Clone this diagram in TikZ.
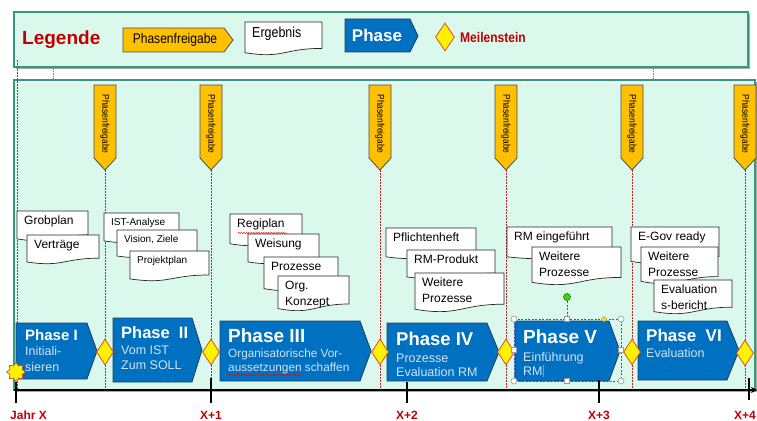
\documentclass[tikz,border=0pt]{standalone}
\usepackage{fontspec}
\setmainfont{Liberation Sans}
\newfontfamily\narrowf[FakeStretch=0.86]{Liberation Sans}
\usetikzlibrary{shapes.geometric,arrows.meta,decorations.pathmorphing}
\definecolor{mint}{HTML}{DAF9EC}
\definecolor{tealb}{HTML}{2E9E7E}
\definecolor{phblue}{HTML}{0070C0}
\definecolor{phborder}{HTML}{1F3F66}
\definecolor{phsubc}{HTML}{D2E3F4}
\definecolor{tagorange}{HTML}{FFC000}
\definecolor{labred}{HTML}{C00000}
\definecolor{redline}{HTML}{D02020}
\definecolor{msborder}{HTML}{E0501A}
\newcommand{\fs}[2]{\fontsize{#1}{#2}\selectfont}
\newcommand{\ergdoc}[7]{%
  \filldraw[docline] (#2,#3) -- (#4,#3) -- (#4,{#3+0.80*(#5-#3)})
    .. controls ({(#2+#4)/2},{#3+0.80*(#5-#3)}) and ({(#2+#4)/2},{#3+1.12*(#5-#3)}) .. (#2,{#3+0.93*(#5-#3)}) -- cycle;
  \node[doctext,font=#6] (#1) at ({#2+7},{#3+5}) {#7};}
\newcommand{\phaseshape}[5]{%
  \filldraw[phshape] (#1,#2) -- (#3,#2) -- (#4,{(#2+#5)/2}) -- (#3,#5) -- (#1,#5) -- cycle;}
\newcommand{\vtag}[2]{%
  \filldraw[tagshape] ({#2-11},85) -- ({#2+11},85) -- ({#2+11},158) -- (#2,170) -- ({#2-11},158) -- cycle;
  \node[rotate=-90,inner sep=0pt,font=\narrowf\fs{9.8}{11}] (#1) at (#2,124) {Phasenfreigabe};
  \coordinate (#1tip) at (#2,170);
  \coordinate (#1foot) at (#2,389);
  \draw[reddash] (#1tip) -- (#1foot);}
\tikzset{
  docline/.style={fill=white, draw=black!85, line width=0.7pt},
  doctext/.style={anchor=north west, inner sep=0pt, align=left, text=black},
  phshape/.style={fill=phblue, draw=phborder, line width=0.8pt},
  phtitle/.style={anchor=base west, inner sep=0pt, text=white, font=\bfseries\fs{18}{20}},
  phsub/.style={anchor=base west, inner sep=0pt, text=phsubc, font=\fs{12.5}{14}},
  tagshape/.style={fill=tagorange, draw=black!70, line width=0.8pt},
  milestone/.style={diamond, fill=yellow, draw=msborder, line width=0.8pt, minimum width=17pt, minimum height=26pt, inner sep=0pt},
  reddash/.style={draw=redline, dash pattern=on 2pt off 1pt, line width=0.6pt},
  axlabel/.style={text=labred, font=\bfseries\fs{12}{14}, inner sep=0pt},
  axtick/.style={line width=1.3pt, draw=black},
  handle/.style={circle, fill=white, draw=gray!80, line width=0.6pt, minimum size=6pt, inner sep=0pt},
  sqhandle/.style={rectangle, fill=white, draw=gray!80, line width=0.6pt, minimum size=5pt, inner sep=0pt},
  wavyred/.style={draw=red, line width=0.5pt, decorate, decoration={snake, amplitude=0.6pt, segment length=2.5pt}},
}
\begin{document}
\begin{tikzpicture}[x=1pt,y=-1pt]
\useasboundingbox (0,0) rectangle (757,420);
% legend frame
\fill[black!35] (16,14) rectangle (750,69);
\filldraw[fill=mint, draw=tealb, line width=1.5pt] (14,12) rectangle (748,67);
% main frame
\fill[black!35] (16,82) rectangle (757,392);
\filldraw[fill=mint, draw=tealb, line width=1.5pt] (14,80) rectangle (755,390);
\draw[white, line width=0.8pt] (15,82.5) -- (754,82.5);
% small gray connectors between frames
\coordinate (gl1) at (53,68); \coordinate (gl2) at (53,79);
\coordinate (gr1) at (653,68); \coordinate (gr2) at (653,79);
\draw[gray, dash pattern=on 1.5pt off 1pt, line width=0.6pt] (gl1) -- (gl2);
\draw[gray, dash pattern=on 1.5pt off 1pt, line width=0.6pt] (gr1) -- (gr2);
% legend content
\node[anchor=west, inner sep=0pt, text=labred, font=\bfseries\fs{19}{22}] (legtitle) at (22,40) {Legende};
\filldraw[tagshape] (123,28) -- (224,28) -- (233,40) -- (224,52) -- (123,52) -- cycle;
\node[inner sep=0pt, font=\narrowf\fs{14}{16}] (legtag) at (175,40) {Phasenfreigabe};
\ergdoc{legerg}{245}{22}{322}{55}{\narrowf\fs{14.5}{16}}{Ergebnis}
\filldraw[phshape] (345,19) -- (410,19) -- (418,36) -- (410,52) -- (345,52) -- cycle;
\node[inner sep=0pt, text=white, font=\bfseries\fs{17}{19}] (legphase) at (377,35) {Phase};
\node[milestone, minimum width=19pt, minimum height=28pt] (legms) at (445,37) {};
\node[anchor=west, inner sep=0pt, text=labred, font=\narrowf\bfseries\fs{14}{16}] (legmstext) at (460,37) {Meilenstein};
% left red dashed line
\coordinate (l0top) at (17,60); \coordinate (l0foot) at (17,389);
\draw[reddash] (l0top) -- (l0foot);
% phase release tags
\vtag{t1}{105}
\vtag{t2}{211}
\vtag{t3}{380}
\vtag{t4}{506}
\vtag{t5}{632}
\vtag{t6}{745}
% results
\ergdoc{d1}{17}{211}{88}{241}{\fs{12}{15}}{Grobplan}
\ergdoc{d2}{27}{235}{99}{264}{\fs{12}{15}}{Verträge}
\ergdoc{d3}{104}{213}{179}{243}{\fs{10}{12}}{IST-Analyse}
\ergdoc{d4}{117}{230}{197}{258}{\fs{10}{12}}{Vision, Ziele}
\ergdoc{d5}{130}{251}{209}{281}{\fs{10}{12}}{Projektplan}
\ergdoc{d6}{230}{214}{302}{246}{\fs{12}{15}}{Regiplan}
\ergdoc{d7}{248}{234}{319}{264}{\fs{12}{15}}{Weisung}
\ergdoc{d8}{264}{257}{338}{291}{\fs{12}{15}}{Prozesse}
\ergdoc{d9}{278}{276}{349}{311}{\fs{12}{15.5}}{Org.\\Konzept}
\ergdoc{d10}{386}{228}{476}{259}{\fs{12}{15}}{Pflichtenheft}
\ergdoc{d11}{407}{250}{495}{279}{\fs{12}{15}}{RM-Produkt}
\ergdoc{d12}{415}{273}{504}{312}{\fs{12}{15.5}}{Weitere\\Prozesse}
\ergdoc{d13}{507}{227}{612}{259}{\fs{12}{15}}{RM eingeführt}
\ergdoc{d14}{532}{247}{621}{285}{\fs{12}{15.5}}{Weitere\\Prozesse}
\ergdoc{d15}{631}{227}{719}{264}{\fs{12}{15}}{E-Gov ready}
\ergdoc{d16}{641}{247}{718}{284}{\fs{12}{15.5}}{Weitere\\Prozesse}
\ergdoc{d17}{654}{280}{732}{314}{\fs{12}{15.5}}{Evaluation\\s-bericht}
\draw[wavyred] (238,233) -- (287,233);
% phases
\phaseshape{16}{323}{87}{97}{379}
\node[phtitle, font=\bfseries\fs{15}{17}] (p1t) at (25,340) {Phase I};
\node[phsub] (p1a) at (25,355) {Initiali-};
\node[phsub] (p1b) at (25,371) {sieren};
\phaseshape{113}{318}{192}{202}{382}
\node[phtitle, font=\bfseries\fs{16.5}{18}] (p2t) at (121,338) {Phase\ \ II};
\node[phsub] (p2a) at (121,354) {Vom IST};
\node[phsub] (p2b) at (121,369) {Zum SOLL};
\phaseshape{220}{321}{360}{371}{381}
\node[phtitle, font=\bfseries\fs{19}{21}] (p3t) at (228,342) {Phase III};
\node[phsub, font=\fs{11.8}{14}] (p3a) at (228,357) {Organisatorische Vor-};
\node[phsub, font=\fs{11.8}{14}] (p3b) at (228,371) {aussetzungen schaffen};
\draw[wavyred] (228,375) -- (301,375);
\phaseshape{387}{323}{487}{499}{381}
\node[phtitle, font=\bfseries\fs{18.5}{20}] (p4t) at (396,345) {Phase IV};
\node[phsub] (p4a) at (396,362) {Prozesse};
\node[phsub] (p4b) at (396,376) {Evaluation RM};
\phaseshape{515}{321}{609}{620}{381}
\node[phtitle, font=\bfseries\fs{19}{21}] (p5t) at (523,343) {Phase V};
\node[phsub] (p5a) at (523,361) {Einführung};
\node[phsub] (p5b) at (523,375) {RM};
\phaseshape{638}{321}{727}{739}{380}
\node[phtitle, font=\bfseries\fs{17}{19}] (p6t) at (646,341) {Phase\ \ VI};
\node[phsub] (p6a) at (646,357) {Evaluation};
% milestones
\node[milestone] (m1) at (105,352) {};
\node[milestone] (m2) at (211,352) {};
\node[milestone] (m3) at (380,352) {};
\node[milestone] (m4) at (506,352) {};
\node[milestone] (m5) at (632,352) {};
\node[milestone] (m6) at (745,353) {};
\node[star, star points=8, star point ratio=1.45, minimum size=19pt, inner sep=0pt, fill=yellow, draw=msborder, line width=0.7pt] (start) at (16,372) {};
% selection handles on Phase V
\coordinate (s1) at (514,319); \coordinate (s2) at (621,381);
\draw[gray!60!blue, dash pattern=on 2pt off 1.5pt, line width=0.5pt] (s1) rectangle (s2);
\coordinate (rotA) at (567,301); \coordinate (rotB) at (567,319);
\draw[gray!60!blue, dash pattern=on 2pt off 1.5pt, line width=0.5pt] (rotA) -- (rotB);
\node[circle, fill=green!70!black!60!lime, draw=green!40!black, line width=0.5pt, minimum size=7pt, inner sep=0pt] (rot) at (567,297) {};
\node[handle] (h1) at (514,319) {};
\node[handle] (h2) at (621,319) {};
\node[handle] (h3) at (514,381) {};
\node[handle] (h4) at (621,381) {};
\node[sqhandle] (h5) at (567,319) {};
\node[sqhandle] (h6) at (567,381) {};
\node[sqhandle] (h7) at (514,350) {};
\node[sqhandle] (h8) at (621,350) {};
\node[diamond, fill=yellow!80!orange, draw=gray!70, line width=0.4pt, minimum size=6pt, inner sep=0pt] (h9) at (604,319) {};
\coordinate (cur1) at (543,365); \coordinate (cur2) at (543,377);
\draw[orange, line width=0.8pt] (cur1) -- (cur2);
% time axis
\coordinate (ax0) at (14,390); \coordinate (ax1) at (757,390);
\draw[line width=1.3pt, -{Stealth[length=6pt,width=6pt]}] (ax0) -- (ax1);
\coordinate (k0a) at (16,382); \coordinate (k0b) at (16,403);
\coordinate (k1a) at (211,378); \coordinate (k1b) at (211,403);
\coordinate (k2a) at (407,382); \coordinate (k2b) at (407,403);
\coordinate (k3a) at (599,380); \coordinate (k3b) at (599,403);
\coordinate (k4a) at (749,378); \coordinate (k4b) at (749,400);
\draw[axtick] (k0a) -- (k0b);
\draw[axtick] (k1a) -- (k1b);
\draw[axtick] (k2a) -- (k2b);
\draw[axtick] (k3a) -- (k3b);
\draw[axtick] (k4a) -- (k4b);
\node[axlabel, anchor=base west] (lab0) at (10,419) {Jahr X};
\node[axlabel, anchor=base] (lab1) at (211,419) {X+1};
\node[axlabel, anchor=base] (lab2) at (407,419) {X+2};
\node[axlabel, anchor=base] (lab3) at (599,419) {X+3};
\node[axlabel, anchor=base east] (lab4) at (756,419) {X+4};
\end{tikzpicture}
\end{document}
